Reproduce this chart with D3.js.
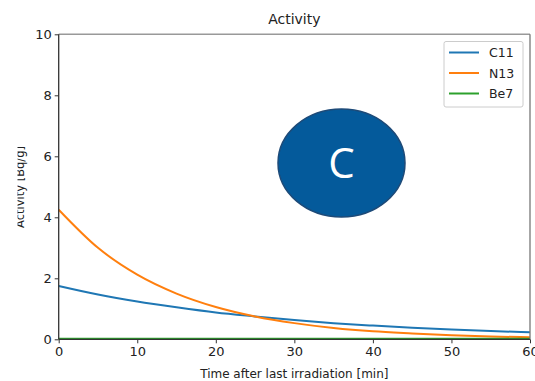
<!DOCTYPE html>
<html><head><meta charset="utf-8">
<script src="https://cdn.jsdelivr.net/npm/d3@7"></script>
<style>body{margin:0;background:#fff;} svg{display:block;font-family:"DejaVu Sans",sans-serif;}</style>
</head><body><svg id="c" width="535" height="381"></svg>
<script>
const times = [0,5,10,15,20,25,30,35,40,45,50,55,60];
const c11 = [1.75,1.47,1.24,1.05,0.88,0.75,0.63,0.53,0.45,0.38,0.32,0.27,0.23];
const n13 = [4.25,3.0,2.12,1.5,1.06,0.75,0.53,0.37,0.26,0.19,0.13,0.09,0.07];
const be7 = [0.02,0.02,0.02,0.02,0.02,0.02,0.02,0.02,0.02,0.02,0.02,0.02,0.02];
const seriesNames = ["C11","N13","Be7"];
const seriesColors = ["#1f77b4","#ff7f0e","#2ca02c"];
const xTicks = [0,10,20,30,40,50,60];
const yTicks = [0,2,4,6,8,10];
const title = "Activity";
const xLabel = "Time after last irradiation [min]";
const yLabel = "Activity [Bq/g]";
const badge = "C";

const svg = d3.select("#c");
const L=58.7,R=530,T=34.3,B=339.3;
const x = d3.scaleLinear().domain([0,60]).range([L,R]);
const y = d3.scaleLinear().domain([0,10]).range([B,T]);

// y label (partially clipped at left edge, as in the reference)
svg.append("text").attr("transform",`translate(23.5,187) rotate(-90)`)
  .attr("text-anchor","middle").attr("font-size",11.5).attr("fill","#222").text(yLabel);
svg.append("rect").attr("x",0).attr("y",100).attr("width",17.5).attr("height",180).attr("fill","#fff");

// axes
const xa = svg.append("g").attr("transform",`translate(0,${B})`)
  .call(d3.axisBottom(x).tickValues(xTicks).tickSize(4).tickPadding(3).tickFormat(d3.format("d")));
const ya = svg.append("g").attr("transform",`translate(${L},0)`)
  .call(d3.axisLeft(y).tickValues(yTicks).tickSize(4).tickPadding(3).tickFormat(d3.format("d")));
[xa,ya].forEach(g=>{
  g.select(".domain").remove();
  g.selectAll("line").attr("stroke","#333");
  g.selectAll("text").attr("font-size",13).attr("fill","#222").attr("font-family","DejaVu Sans");
});

// lines
const data = [c11,n13,be7];
const line = d3.line().x((d,i)=>x(times[i])).y(d=>y(d)).curve(d3.curveMonotoneX);
data.forEach((vals,k)=>{
  svg.append("path").attr("d",line(vals)).attr("fill","none")
    .attr("stroke",seriesColors[k]).attr("stroke-width",2);
});

// spines
svg.append("line").attr("x1",L).attr("x2",R).attr("y1",T).attr("y2",T).attr("stroke","#999").attr("stroke-width",1.5);
svg.append("line").attr("x1",R).attr("x2",R).attr("y1",T).attr("y2",B).attr("stroke","#777").attr("stroke-width",1.3);
svg.append("line").attr("x1",L).attr("x2",L).attr("y1",T).attr("y2",B).attr("stroke","#333").attr("stroke-width",1.3);
svg.append("line").attr("x1",L).attr("x2",R).attr("y1",B).attr("y2",B).attr("stroke","#333").attr("stroke-width",1.3);

// title & x label
svg.append("text").attr("x",(L+R)/2).attr("y",24).attr("text-anchor","middle")
  .attr("font-size",14).attr("fill","#222").text(title);
svg.append("text").attr("x",(L+R)/2).attr("y",378).attr("text-anchor","middle")
  .attr("font-size",12).attr("fill","#222").text(xLabel);

// legend
const lg = svg.append("g");
lg.append("rect").attr("x",444).attr("y",41.5).attr("width",79).attr("height",65.5)
  .attr("rx",2).attr("fill","#fff").attr("stroke","#ccc");
seriesNames.forEach((n,i)=>{
  const yy = 52.5 + i*20.5;
  lg.append("line").attr("x1",449).attr("x2",479).attr("y1",yy).attr("y2",yy)
    .attr("stroke",seriesColors[i]).attr("stroke-width",2);
  lg.append("text").attr("x",489).attr("y",yy+4.5).attr("font-size",12.5).attr("fill","#222").text(n);
});

// badge
svg.append("ellipse").attr("cx",341.5).attr("cy",163).attr("rx",63.5).attr("ry",54)
  .attr("fill","#045a9b").attr("stroke","#1d4a78").attr("stroke-width",1.5);
svg.append("text").attr("x",341.5).attr("y",178).attr("text-anchor","middle")
  .attr("font-size",42).attr("fill","#fff").attr("font-family","Open Sans, DejaVu Sans").text(badge);
</script></body></html>
